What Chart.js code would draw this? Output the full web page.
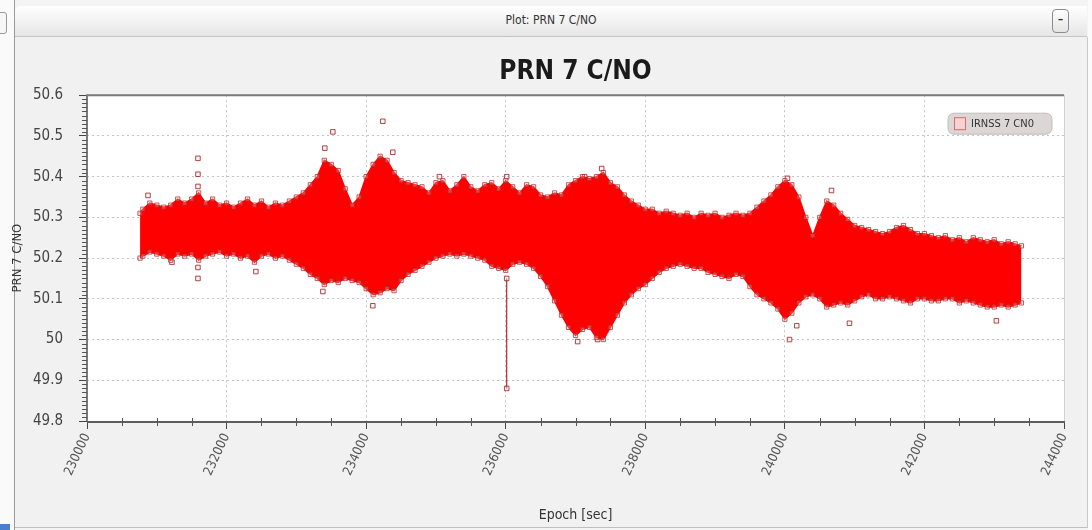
<!DOCTYPE html>
<html>
<head>
<meta charset="utf-8">
<script src="https://cdn.jsdelivr.net/npm/chart.js@4.4.1/dist/chart.umd.min.js"></script>
<style>
  html, body { margin:0; padding:0; width:1092px; height:530px; overflow:hidden; background:#f4f4f4; font-family:"DejaVu Sans Condensed", "DejaVu Sans", sans-serif; }
  #leftstrip { position:absolute; left:0; top:0; width:14px; height:530px; background:#fafafa; border-right:1px solid #9a9a9a; }
  #leftbtn { position:absolute; left:-6px; top:12px; width:11px; height:20px; border:1px solid #999; border-radius:3px; background:#f6f6f6; }
  #titlebar { position:absolute; left:15px; top:6px; width:1072px; height:30px; background:linear-gradient(#ffffff,#e6e6e6); border-bottom:1px solid #c4c4c4; border-top-left-radius:6px; }
  #wintitle { position:absolute; left:0; right:0; top:7px; text-align:center; font:12px "DejaVu Sans Condensed", "DejaVu Sans", sans-serif; color:#333; }
  #minbtn { position:absolute; right:18px; top:3px; width:15px; height:22px; border:1px solid #8c8c8c; border-radius:4px; background:linear-gradient(#fff,#e4e4e4); font:bold 11px "DejaVu Sans"; text-align:center; line-height:20px; color:#333; }
  #panel { position:absolute; left:15px; top:37px; width:1072px; height:490px; background:#f1f1f1; border-right:1px solid #c8c8c8; border-bottom:1px solid #bfbfbf; }
  #rightstrip { position:absolute; left:1088px; top:0; width:4px; height:530px; background:#fbfbfb; }
  #bottomtab { position:absolute; left:0; top:524px; width:10px; height:6px; background:#4a7fd0; }
  #c { position:absolute; left:0; top:0; }
</style>
</head>
<body>
<div id="leftstrip"><div id="leftbtn"></div></div>
<div id="titlebar"><div id="wintitle">Plot: PRN 7 C/NO</div><div id="minbtn">–</div></div>
<div id="panel"></div>
<div id="rightstrip"></div>
<div id="bottomtab"></div>
<canvas id="c" width="1092" height="530"></canvas>
<script>
// ---- Data (upper / lower edge of the dense C/N0 band) ----
const epochs = [230760,230800,230900,231000,231100,231200,231300,231400,231500,231600,231700,231800,231900,
  232000,232100,232200,232300,232400,232500,232600,232700,232800,232900,
  233000,233100,233200,233300,233400,233500,233600,233700,233800,233900,
  234000,234100,234200,234300,234400,234500,234600,234700,234800,234900,
  235000,235100,235200,235300,235400,235500,235600,235700,235800,235900,
  236000,236100,236200,236300,236400,236500,236600,236700,236800,236900,
  237000,237100,237200,237300,237400,237500,237600,237700,237800,237900,
  238000,238100,238200,238300,238400,238500,238600,238700,238800,238900,
  239000,239100,239200,239300,239400,239500,239600,239700,239800,239900,
  240000,240100,240200,240300,240400,240500,240600,240700,240800,240900,
  241000,241100,241200,241300,241400,241500,241600,241700,241800,241900,
  242000,242100,242200,242300,242400,242500,242600,242700,242800,242900,
  243000,243100,243200,243300,243390];
const upperCN0 = [50.31,50.32,50.335,50.33,50.325,50.33,50.345,50.335,50.345,50.36,50.335,50.345,50.33,
  50.335,50.325,50.335,50.345,50.33,50.34,50.325,50.335,50.33,50.34,
  50.35,50.36,50.38,50.40,50.44,50.43,50.415,50.37,50.33,50.35,
  50.40,50.43,50.45,50.44,50.41,50.39,50.385,50.38,50.375,50.36,
  50.385,50.39,50.365,50.38,50.40,50.375,50.365,50.38,50.385,50.37,
  50.39,50.375,50.36,50.38,50.375,50.355,50.35,50.36,50.355,50.38,
  50.39,50.40,50.395,50.40,50.41,50.385,50.375,50.355,50.34,50.33,
  50.32,50.32,50.31,50.315,50.31,50.305,50.31,50.30,50.31,50.305,
  50.31,50.30,50.305,50.31,50.305,50.31,50.325,50.34,50.355,50.375,
  50.39,50.38,50.35,50.30,50.255,50.30,50.34,50.33,50.31,50.295,
  50.28,50.275,50.27,50.265,50.26,50.265,50.275,50.28,50.27,50.26,
  50.26,50.255,50.25,50.255,50.245,50.25,50.24,50.25,50.245,50.24,
  50.245,50.235,50.24,50.235,50.23];
const lowerCN0 = [50.20,50.205,50.215,50.21,50.205,50.195,50.21,50.205,50.21,50.195,50.205,50.21,50.215,
  50.205,50.21,50.20,50.205,50.19,50.205,50.21,50.20,50.205,50.195,
  50.185,50.175,50.16,50.15,50.135,50.145,50.14,50.15,50.145,50.14,
  50.125,50.11,50.115,50.125,50.12,50.145,50.16,50.17,50.18,50.19,
  50.20,50.205,50.21,50.205,50.21,50.205,50.20,50.195,50.18,50.175,
  50.17,50.185,50.19,50.185,50.175,50.155,50.13,50.095,50.06,50.03,
  50.01,50.025,50.03,50.005,50.00,50.03,50.06,50.09,50.11,50.125,
  50.135,50.15,50.165,50.175,50.18,50.185,50.18,50.175,50.175,50.165,
  50.16,50.155,50.15,50.16,50.155,50.13,50.11,50.10,50.09,50.075,
  50.05,50.065,50.09,50.105,50.11,50.10,50.08,50.085,50.09,50.085,
  50.095,50.105,50.11,50.10,50.10,50.105,50.10,50.095,50.09,50.10,
  50.10,50.095,50.095,50.10,50.10,50.09,50.095,50.09,50.085,50.08,
  50.08,50.085,50.08,50.085,50.09];
const outlierEpochs = [230874,231590,231590,231590,231590,231590,231217,232420,233408,233523,
  234239,234382,234096,233380,237031,237317,237375,237131,240038,240067,240170,240668,240926,243031,235050,236014];
const outlierCN0 = [50.354,50.445,50.406,50.376,50.177,50.15,50.19,50.167,50.47,50.51,
  50.536,50.46,50.083,50.118,49.995,50.0,50.42,50.40,50.396,50.0,50.034,50.366,50.04,50.046,50.40,50.40];
const dipEpochs = [236014, 236014];
const dipCN0 = [50.15, 49.88];
const xTickValues = [230000,232000,234000,236000,238000,240000,242000,244000];
const yTickValues = [49.8,49.9,50,50.1,50.2,50.3,50.4,50.5,50.6];
const seriesLabel = 'IRNSS 7 CN0';

const FONT = '"DejaVu Sans Condensed", "DejaVu Sans", sans-serif';
const toXY = (xs, ys) => xs.map((x, i) => ({x: x, y: ys[i]}));

const framePlugin = {
  id: 'frame',
  beforeDraw(chart) {
    const {ctx, chartArea: a} = chart;
    ctx.save();
    ctx.fillStyle = '#ffffff';
    ctx.fillRect(a.left, a.top, a.right - a.left, a.bottom - a.top);
    ctx.restore();
  },
  afterDraw(chart) {
    const {ctx, chartArea: a, scales} = chart;
    ctx.save();
    ctx.strokeStyle = '#7a7a7a';
    ctx.lineWidth = 2;
    ctx.beginPath();
    ctx.moveTo(a.left, a.bottom); ctx.lineTo(a.left, a.top); ctx.lineTo(a.right, a.top);
    ctx.stroke();
    ctx.strokeStyle = '#d0d0d0'; ctx.lineWidth = 1;
    ctx.beginPath(); ctx.moveTo(a.right + 0.5, a.top); ctx.lineTo(a.right + 0.5, a.bottom); ctx.stroke();
    ctx.strokeStyle = '#5e5e5e'; ctx.lineWidth = 2;
    ctx.beginPath(); ctx.moveTo(a.left, a.bottom + 1); ctx.lineTo(a.right + 1, a.bottom + 1); ctx.stroke();
    ctx.strokeStyle = '#555'; ctx.lineWidth = 1;
    ctx.beginPath();
    for (let v = 230500; v < 244000; v += 500) {
      if (v % 2000 === 0) continue;
      const px = Math.round(scales.x.getPixelForValue(v)) + 0.5;
      ctx.moveTo(px, a.bottom - 3); ctx.lineTo(px, a.bottom + 5);
    }
    for (let k = 4980; k <= 5060; k++) {
      if (k % 10 === 0) continue;
      const py = Math.round(scales.y.getPixelForValue(k / 100)) + 0.5;
      ctx.moveTo(a.left - 5, py); ctx.lineTo(a.left, py);
    }
    ctx.stroke();
    // legend
    const lw = 104, lh = 21;
    const lx = a.right - 12 - lw, ly = a.top + 18;
    ctx.beginPath();
    ctx.roundRect(lx, ly, lw, lh, 6);
    ctx.fillStyle = '#ddd6d6';
    ctx.fill();
    ctx.strokeStyle = '#c4bcbc'; ctx.lineWidth = 1; ctx.stroke();
    ctx.fillStyle = '#f6d2d2';
    ctx.fillRect(lx + 6, ly + 4.5, 11, 12);
    ctx.strokeStyle = '#d07070';
    ctx.strokeRect(lx + 6.5, ly + 4.5, 11, 12);
    ctx.fillStyle = '#333';
    ctx.font = '11px ' + FONT;
    ctx.textBaseline = 'middle';
    ctx.fillText(seriesLabel, lx + 23, ly + lh / 2 + 0.5);
    ctx.restore();
  }
};

const edgePoint = {
  pointStyle: 'rect', pointRadius: 3,
  pointBorderColor: 'rgba(170,40,40,0.75)', pointBackgroundColor: 'rgba(255,215,215,0.25)', pointBorderWidth: 1
};

new Chart(document.getElementById('c'), {
  type: 'line',
  data: {
    datasets: [
      Object.assign({
        label: seriesLabel,
        data: toXY(epochs, upperCN0),
        borderColor: '#ff0000', borderWidth: 1.5,
        fill: false, tension: 0
      }, edgePoint),
      Object.assign({
        label: seriesLabel + ' low',
        data: toXY(epochs, lowerCN0),
        borderColor: '#ff0000', borderWidth: 1.5,
        backgroundColor: '#ff0000',
        fill: '-1', tension: 0
      }, edgePoint),
      {
        label: seriesLabel + ' out',
        data: toXY(outlierEpochs, outlierCN0),
        showLine: false,
        pointStyle: 'rect', pointRadius: 3.2,
        pointBorderColor: 'rgba(150,30,30,0.8)', pointBackgroundColor: 'rgba(255,220,220,0.3)', pointBorderWidth: 1
      },
      {
        label: seriesLabel + ' dip',
        data: toXY(dipEpochs, dipCN0),
        borderColor: '#b42828', borderWidth: 1.2,
        pointStyle: 'rect', pointRadius: 3.2,
        pointBorderColor: 'rgba(150,30,30,0.8)', pointBackgroundColor: 'rgba(255,230,230,0.4)', pointBorderWidth: 1,
        fill: false
      }
    ]
  },
  options: {
    responsive: false,
    animation: false,
    devicePixelRatio: 1,
    layout: { padding: { left: 10, right: 28, top: 48, bottom: 3 } },
    plugins: {
      legend: { display: false },
      tooltip: { enabled: false },
      title: {
        display: true, text: 'PRN 7 C/NO', fullSize: false,
        font: { family: FONT, size: 26, weight: 'bold', lineHeight: 1.2 },
        color: '#1a1a1a',
        padding: { top: 9, bottom: 7 }
      }
    },
    scales: {
      x: {
        type: 'linear', min: 230000, max: 244000,
        afterFit: (s) => { s.height = 106; },
        afterBuildTicks: (s) => { s.ticks = xTickValues.map(v => ({value: v})); },
        ticks: {
          autoSkip: false, minRotation: 65, maxRotation: 65,
          font: { family: FONT, size: 13 },
          color: '#555', padding: 2,
          callback: (v) => String(v)
        },
        grid: { color: '#c4c4c4', tickColor: '#444', tickLength: 8, lineWidth: 1 },
        border: { display: false, dash: [2, 3] },
        title: { display: true, text: 'Epoch [sec]', color: '#333',
          font: { family: FONT, size: 14 }, padding: { top: 2, bottom: 3 } }
      },
      y: {
        type: 'linear', min: 49.8, max: 50.6,
        afterFit: (s) => { s.width = 77; },
        afterBuildTicks: (s) => { s.ticks = yTickValues.map(v => ({value: v})); },
        ticks: {
          autoSkip: false,
          font: { family: FONT, size: 15 },
          color: '#444', padding: 16,
          callback: (v) => String(Math.round(v * 10) / 10)
        },
        grid: { color: '#c4c4c4', tickColor: '#444', tickLength: 8, lineWidth: 1 },
        border: { display: false, dash: [2, 3] },
        title: { display: true, text: 'PRN 7 C/NO', color: '#333',
          font: { family: FONT, size: 13 }, padding: { top: 0, bottom: 2 } }
      }
    }
  },
  plugins: [framePlugin]
});
</script>
</body>
</html>
